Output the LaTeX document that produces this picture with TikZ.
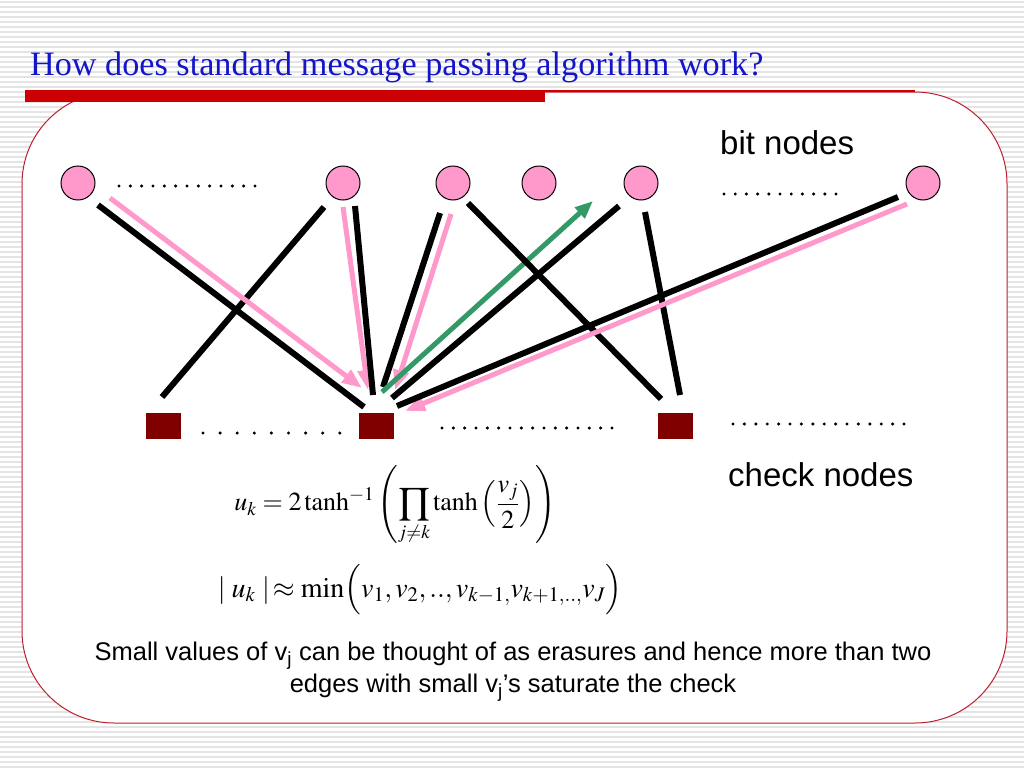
\documentclass[tikz,border=0pt]{standalone}
\usepackage{mathptmx}
\usepackage{fontspec}
\setmainfont{Liberation Serif}
\setsansfont{Liberation Sans}
\usetikzlibrary{arrows.meta}
\definecolor{ColBit}{RGB}{255,153,204}
\definecolor{ColCheck}{RGB}{128,0,0}
\definecolor{ColOut}{RGB}{51,153,102}
\definecolor{ColBar}{RGB}{204,0,0}
\definecolor{ColFrame}{RGB}{190,30,45}
\definecolor{ColTitle}{RGB}{20,20,200}
\definecolor{ColStripe}{RGB}{228,228,228}
\tikzstyle{BitNode}=[circle,draw=black,fill=ColBit,minimum size=34pt,
inner sep=0pt,line width=1pt]
\tikzstyle{CheckNode}=[rectangle,fill=ColCheck,minimum width=35pt,
minimum height=26pt,inner sep=0pt]
\tikzstyle{Edge}=[draw=black,line width=6pt]
\tikzstyle{MsgIn}=[draw=ColBit,line width=5pt,-{Triangle[length=20pt,width=15pt]}]
\tikzstyle{MsgOut}=[draw=ColOut,line width=5pt,-{Triangle[length=18pt,width=14pt]}]
\tikzstyle{Dot}=[fill=black]
\tikzstyle{Label}=[font=\sffamily\fontsize{33}{38}\selectfont,inner sep=0pt]
\tikzstyle{Formula}=[inner sep=0pt]
\begin{document}
\begin{tikzpicture}[x=1pt,y=-1pt]
        \useasboundingbox(0,0)rectangle(1024,768);
        \fill[white](0,0)rectangle(1024,768);
        \foreach \y in {2,7,...,767}
            \draw[ColStripe,line width=2pt](0,\y)--(1024,\y);
        \draw[ColFrame,fill=white,line width=1pt,rounded corners=92pt]
            (22,92)rectangle(1007,723);
        \fill[ColBar](25,90)rectangle(545,102);
        \draw[ColBar,line width=1.5pt](545,91)--(915,91);
        \node[anchor=base west,inner sep=0pt,text=ColTitle,
            font=\fontsize{34.2}{38}\selectfont](title)at(30,75)
            {How does standard message passing algorithm work?};
        \node[BitNode](b1)at(78,183){};
        \node[BitNode](b2)at(343,183){};
        \node[BitNode](b3)at(453,183){};
        \node[BitNode](b4)at(539,183){};
        \node[BitNode](b5)at(641,183){};
        \node[BitNode](b6)at(923,183){};
        \node[CheckNode](c1)at(163,426){};
        \node[CheckNode](c2)at(376,426){};
        \node[CheckNode](c3)at(675,426){};
        \foreach \i in {0,...,12}\fill[Dot](119+\i*11.33,186)circle(1.7);
        \foreach \i in {0,...,10}\fill[Dot](724+\i*11.2,194)circle(1.7);
        \foreach \i in {0,...,8}\fill[Dot](203+\i*17.1,433)circle(1.7);
        \foreach \i in {0,...,15}\fill[Dot](442+\i*11.33,428)circle(1.7);
        \foreach \i in {0,...,15}\fill[Dot](733+\i*11.4,424)circle(1.7);
        \draw[Edge]([shift={(20,22)}]b1.center)--([shift={(-12,-19)}]c2.center);
        \draw[Edge]([shift={(-19,24)}]b2.center)--([shift={(-1,-29)}]c1.center);
        \draw[MsgIn]([shift={(32,15)}]b1.center)--([shift={(-14,-38)}]c2.center);
        \draw[MsgIn]([shift={(0,24)}]b2.center)--([shift={(-8,-36)}]c2.center);
        \draw[Edge]([shift={(12,23)}]b2.center)--([shift={(-3,-31)}]c2.center);
        \draw[Edge]([shift={(-13,30)}]b3.center)--([shift={(7,-39)}]c2.center);
        \draw[MsgIn]([shift={(-2,31)}]b3.center)--([shift={(19,-36)}]c2.center);
        \draw[MsgOut]([shift={(6,-34)}]c2.center)--([shift={(-48,18)}]b5.center);
        \draw[Edge]([shift={(15,20)}]b3.center)--([shift={(-14,-27)}]c3.center);
        \draw[Edge]([shift={(-22,23)}]b5.center)--([shift={(16,-28)}]c2.center);
        \draw[Edge]([shift={(4,29)}]b5.center)--([shift={(5,-31)}]c3.center);
        \draw[MsgIn]([shift={(-16,21)}]b6.center)--([shift={(29,-15)}]c2.center);
        \draw[Edge]([shift={(-25,14)}]b6.center)--([shift={(21,-20)}]c2.center);
        \node[Label,anchor=base west](bitlabel)at(720,154){bit nodes};
        \node[Label,anchor=base west](checklabel)at(728,486){check nodes};
        \node[Formula,font=\fontsize{26}{30}\selectfont](f1)at(395,505)
            {$\displaystyle u_k = 2\tanh^{-1}
            \left(\prod_{j\neq k}\tanh\left(\frac{v_j}{2}\right)\right)$};
        \node[Formula,font=\fontsize{28}{32}\selectfont](f2)at(420,590)
            {$|\;u_k\;|\!\approx \min\Bigl(v_1,v_2,..,
            v_{k-1,}v_{k+1,..,}v_J\Bigr)$};
        \node[font=\sffamily\fontsize{25.5}{32}\selectfont,align=center,
            inner sep=0pt](note)at(513,672){Small values of v\textsubscript{j}
            can be thought of as erasures and hence more than two\\
            edges with small v\textsubscript{j}’s saturate the check};
    \end{tikzpicture}
\end{document}
